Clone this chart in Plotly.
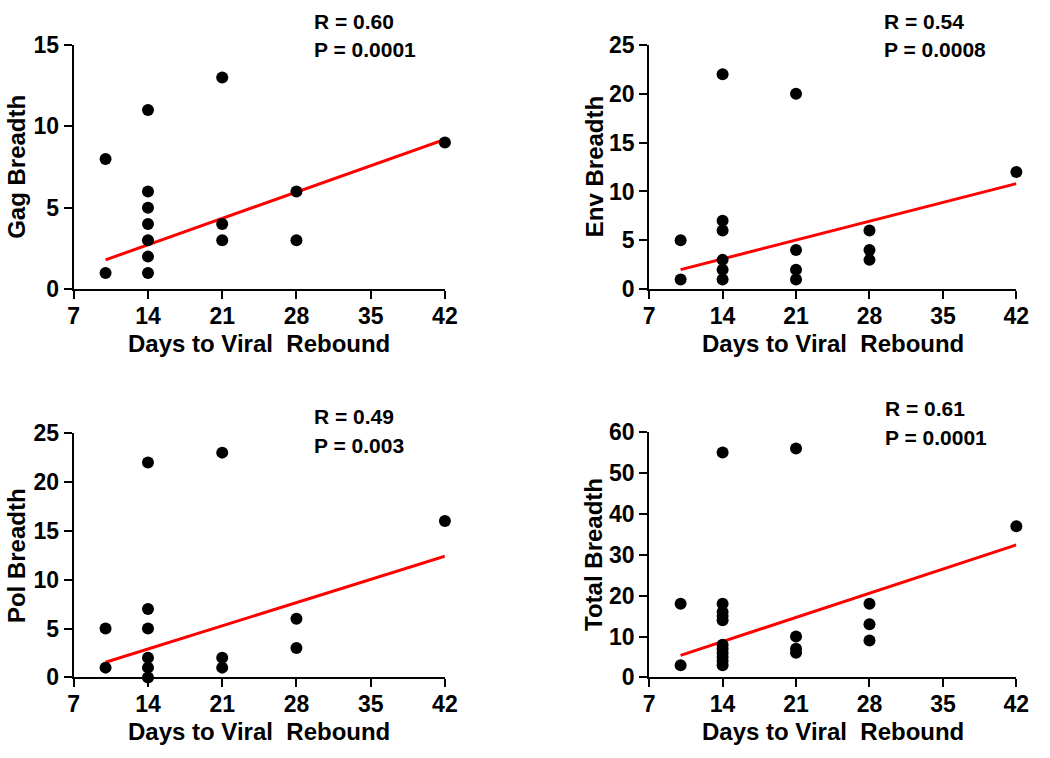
import plotly.graph_objects as go

W, H = 1050, 758

# ---- data ----
gag_x = [10, 10, 14, 14, 14, 14, 14, 14, 14, 21, 21, 21, 28, 28, 42]
gag_y = [8, 1, 11, 6, 5, 4, 3, 2, 1, 13, 4, 3, 6, 3, 9]
gag_fit = [1.8, 9.2]

env_x = [10, 10, 14, 14, 14, 14, 14, 14, 21, 21, 21, 21, 28, 28, 28, 42]
env_y = [5, 1, 22, 7, 6, 3, 2, 1, 20, 4, 2, 1, 6, 4, 3, 12]
env_fit = [2.0, 10.8]

pol_x = [10, 10, 14, 14, 14, 14, 14, 14, 21, 21, 21, 28, 28, 42]
pol_y = [5, 1, 22, 7, 5, 2, 1, 0, 23, 2, 1, 6, 3, 16]
pol_fit = [1.55, 12.4]

tot_x = [10, 10, 14, 14, 14, 14, 14, 14, 14, 14, 14, 14, 14, 21, 21, 21, 21, 28, 28, 28, 42]
tot_y = [18, 3, 55, 18, 16, 15, 14, 8, 7, 6, 5, 4, 3, 56, 10, 7, 6, 18, 13, 9, 37]
tot_fit = [5.4, 32.4]

fit_x = [10, 42]

x_ticks = [7, 14, 21, 28, 35, 42]
x_title = "Days to Viral\u00a0 Rebound"
y_labels = ["Gag Breadth", "Env Breadth", "Pol Breadth", "Total Breadth"]
y_max = [15, 25, 25, 60]
y_dtick = [5, 5, 5, 10]
r_text = ["R = 0.60", "R = 0.54", "R = 0.49", "R = 0.61"]
p_text = ["P = 0.0001", "P = 0.0008", "P = 0.003", "P = 0.0001"]

panels = [(gag_x, gag_y, gag_fit), (env_x, env_y, env_fit),
          (pol_x, pol_y, pol_fit), (tot_x, tot_y, tot_fit)]

# ---- layout geometry (pixels) ----
xpix = [(69, 447), (655, 1029), (69, 447), (655, 1029)]
ypix = [(33, 286), (33, 286), (435, 688), (434, 688)]
ann_pix = [(312, 9, 38), (892, 9, 38), (312, 418, 448), (893, 410, 440)]
ytitle_x = [10, 599, 10, 599]

FONT = "Liberation Sans"
fig = go.Figure()
layout = dict(width=W, height=H, margin=dict(l=0, r=0, t=0, b=0),
              paper_bgcolor="white", plot_bgcolor="white", showlegend=False,
              font=dict(family=FONT, color="black"))
annotations = []


def ann(text, xp, yp, size, angle=0, xanchor="center"):
    return dict(text="<b>" + text + "</b>", x=xp / W, y=1 - yp / H,
                xref="paper", yref="paper", xanchor=xanchor, yanchor="middle",
                textangle=angle, showarrow=False,
                font=dict(family=FONT, size=size, color="black"))


for i, (xs, ys, fit) in enumerate(panels):
    k = "" if i == 0 else str(i + 1)
    xa, ya = "x" + k, "y" + k
    fig.add_trace(go.Scatter(x=fit_x, y=fit, mode="lines",
                             line=dict(color="#ff0000", width=3),
                             xaxis=xa, yaxis=ya, cliponaxis=False))
    fig.add_trace(go.Scatter(x=xs, y=ys, mode="markers",
                             marker=dict(color="black", size=12),
                             xaxis=xa, yaxis=ya, cliponaxis=False))
    axcommon = dict(showline=True, linecolor="black", linewidth=2,
                    ticks="outside", ticklen=8, tickwidth=2, tickcolor="black",
                    showgrid=False, zeroline=False,
                    tickfont=dict(family=FONT, size=23, color="black", weight="bold"))
    layout["xaxis" + k] = dict(
        domain=[xpix[i][0] / W, xpix[i][1] / W], range=[7, 42],
        tickvals=x_ticks, anchor=ya, ticklabelstandoff=-3, **axcommon)
    layout["yaxis" + k] = dict(
        domain=[1 - ypix[i][1] / H, 1 - ypix[i][0] / H],
        range=[0, y_max[i]], dtick=y_dtick[i], anchor=xa, **axcommon)
    x0, x1 = xpix[i]
    y0, y1 = ypix[i]
    annotations.append(ann(x_title, (x0 + x1) / 2, y1 + 56, 24))
    annotations.append(ann(y_labels[i], ytitle_x[i], (y0 + y1) / 2, 24, angle=-90))
    ax0, ry, py = ann_pix[i]
    annotations.append(ann(r_text[i], ax0, ry, 21, xanchor="left"))
    annotations.append(ann(p_text[i], ax0, py, 21, xanchor="left"))

layout["annotations"] = annotations
fig.update_layout(**layout)
fig.write_html("out.html", config={"displayModeBar": False},
               post_script="document.body.style.margin='0';"
                           "document.documentElement.style.overflow='hidden';")
